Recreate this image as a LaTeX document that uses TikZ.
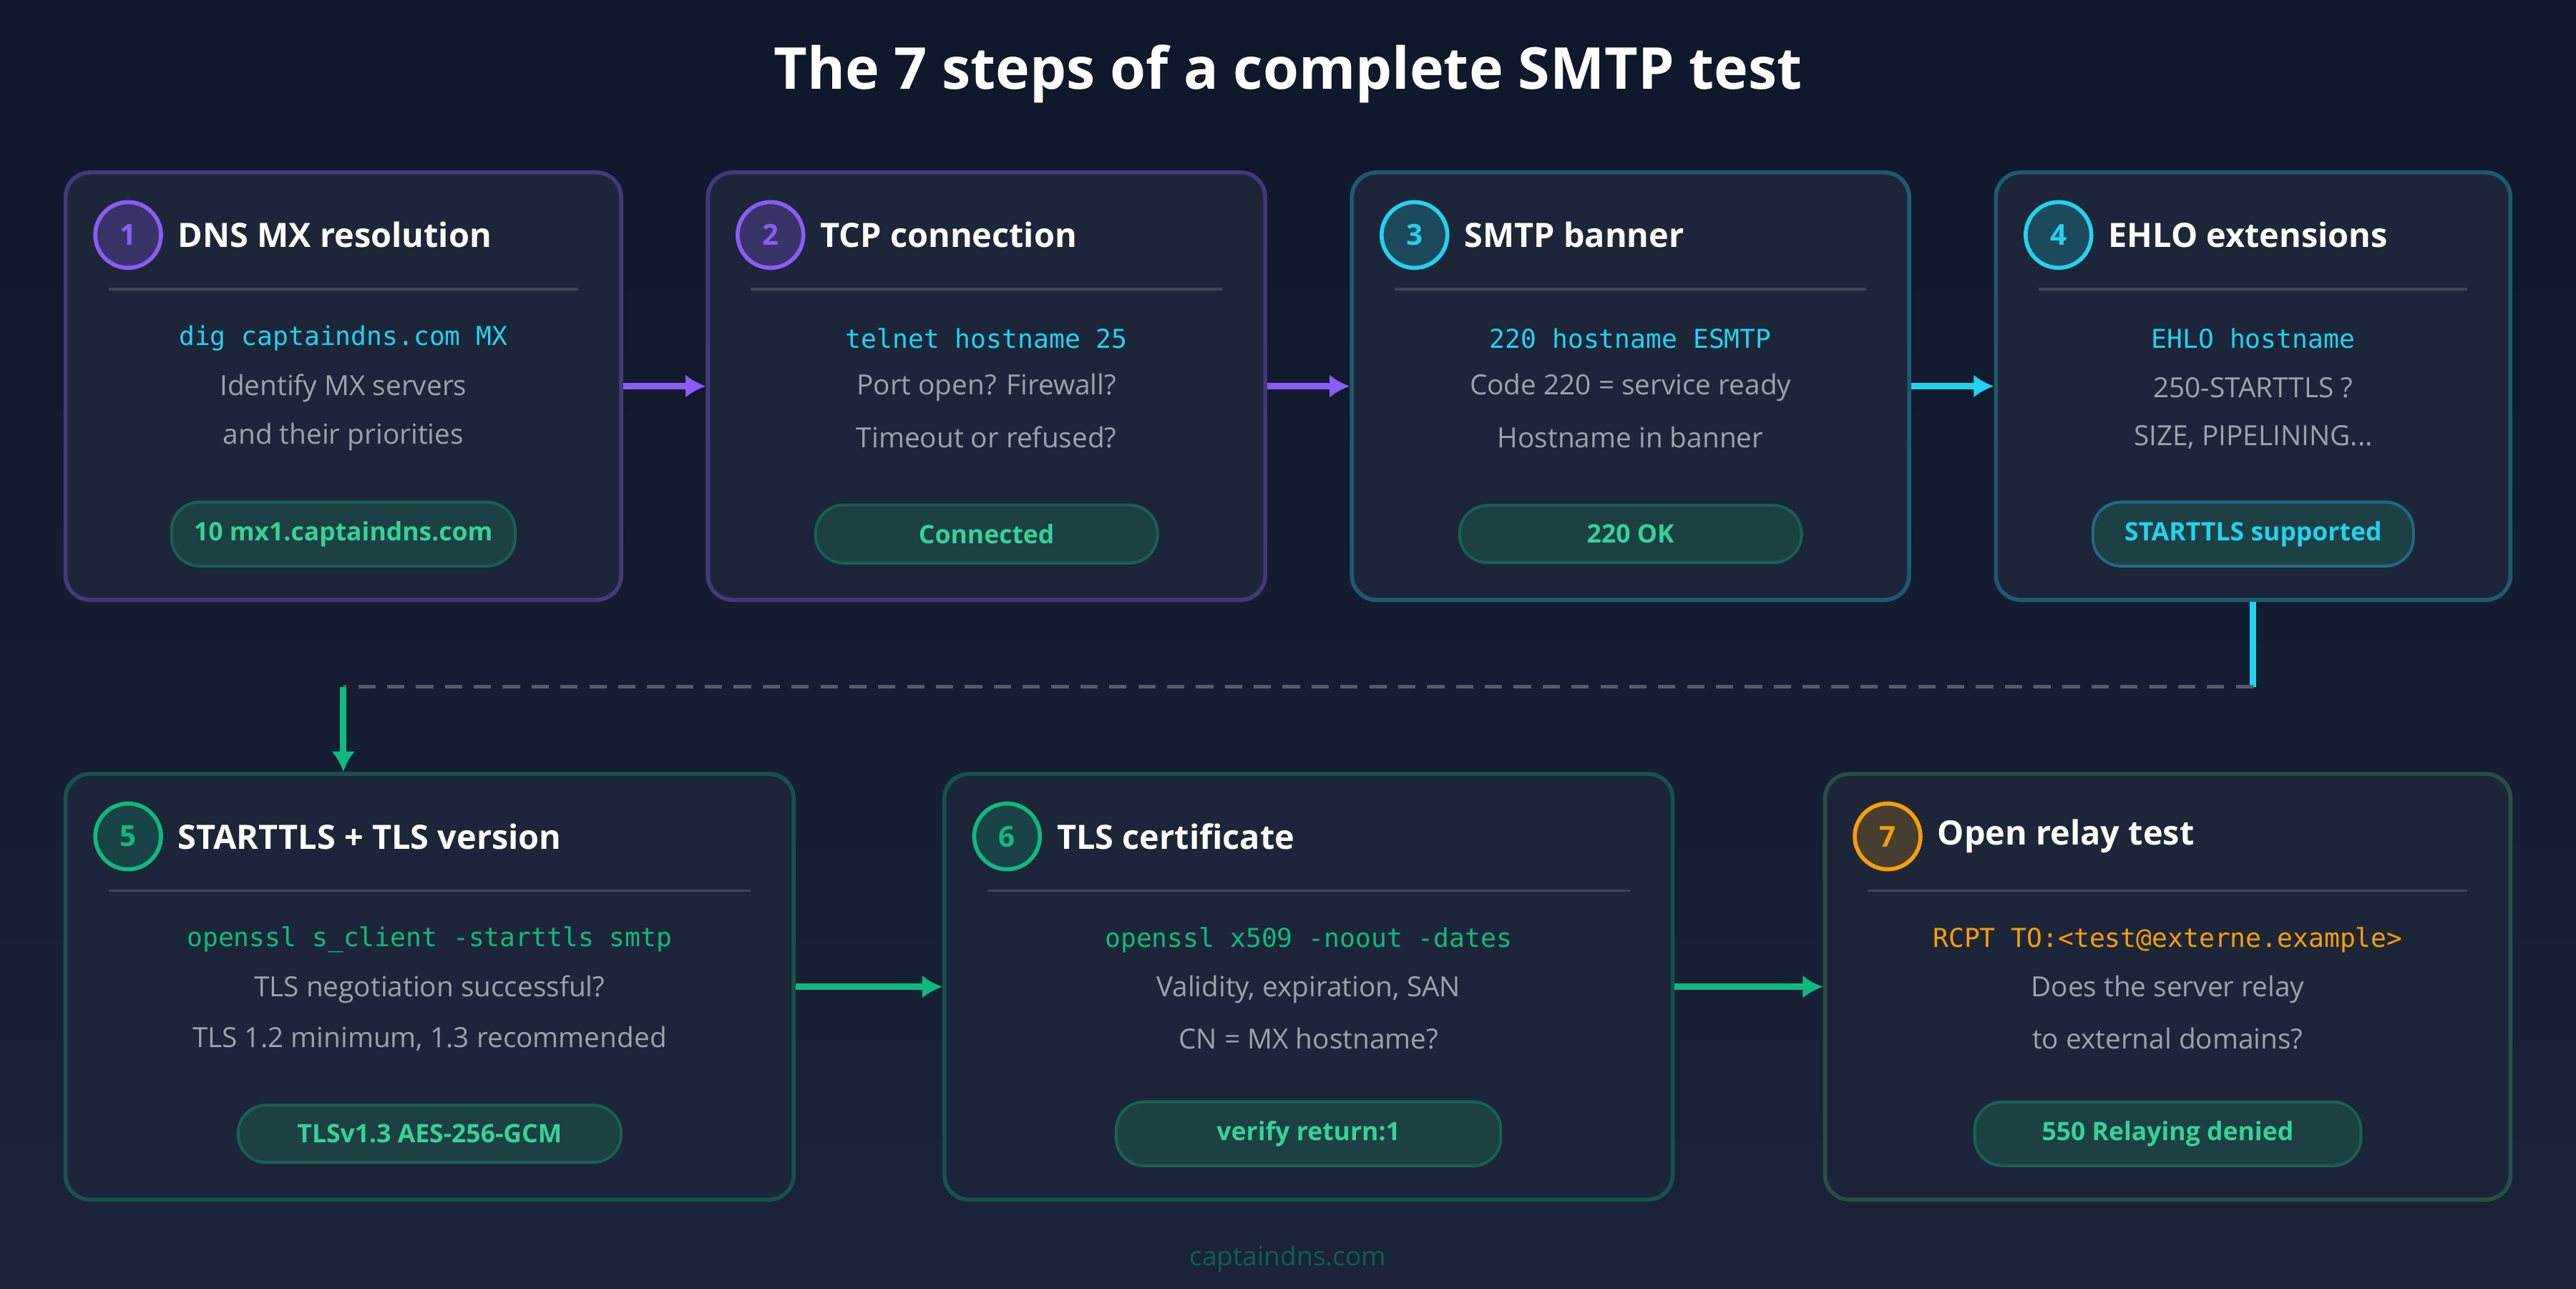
\documentclass[tikz,border=0pt]{standalone}
\usepackage{fontspec}
\setmainfont{Open Sans}
\setmonofont{DejaVu Sans Mono}
\definecolor{bgdark}{HTML}{0F172A}
\definecolor{bglight}{HTML}{1A2436}
\definecolor{cardfill}{HTML}{1C2638}
\definecolor{violet}{HTML}{8B5CF6}
\definecolor{cyanish}{HTML}{22D3EE}
\definecolor{emerald}{HTML}{10B981}
\definecolor{amber}{HTML}{F59E0B}
\definecolor{bodytext}{HTML}{9CA3AF}
\definecolor{pillfill}{HTML}{1D4044}
\definecolor{pilltext}{HTML}{34D399}
\tikzset{card/.style={draw, rounded corners=0.15cm, fill=cardfill, line width=0.7pt}}
\tikzset{num/.style={draw, circle, line width=0.7pt, minimum size=0.4cm, inner sep=0pt, font=\fontsize{5}{6}\selectfont\bfseries}}
\tikzset{head/.style={anchor=west, text=white, font=\fontsize{5.8}{7}\selectfont\bfseries}}
\tikzset{sep/.style={draw=white!15!cardfill, line width=0.4pt}}
\tikzset{code/.style={font=\fontsize{4.5}{5}\ttfamily}}
\tikzset{body/.style={text=bodytext, font=\fontsize{4.8}{6}\selectfont}}
\tikzset{pill/.style={draw=emerald!40!cardfill, fill=pillfill, rounded corners=0.17cm, minimum height=0.34cm, line width=0.5pt, text=pilltext, font=\fontsize{4.4}{5}\selectfont\bfseries}}
\tikzset{flow/.style={line width=1.1pt, -{Latex[length=3.5pt,width=4pt]}}}
\usetikzlibrary{arrows.meta}

\begin{document}
\begin{tikzpicture}[x=0.01cm, y=-0.01cm]
        \shade[top color=bgdark, bottom color=bglight] (0,0) rectangle (1568,784);
        \useasboundingbox (0,0) rectangle (1568,784);

        \node[text=white, font=\fontsize{10}{12}\selectfont\bfseries] (T) at (784,45) {The 7 steps of a complete SMTP test};

        % row 1
        \node[card, draw=violet!35!cardfill, minimum width=3.38cm, minimum height=2.6cm] (S1) at (209,235) {};
        \node[card, draw=violet!35!cardfill, minimum width=3.39cm, minimum height=2.6cm] (S2) at (600.5,235) {};
        \node[card, draw=cyanish!30!cardfill, minimum width=3.39cm, minimum height=2.6cm] (S3) at (992.5,235) {};
        \node[card, draw=cyanish!30!cardfill, minimum width=3.13cm, minimum height=2.6cm] (S4) at (1371.5,235) {};

        \node[num, draw=violet, fill=violet!25!cardfill, text=violet] (N1) at (78,143) {1};
        \node[head] (H1) at (96,143) {DNS MX resolution};
        \draw[sep] (66,176) -- (352,176);
        \node[code, text=cyanish] (C1) at (209,206) {dig captaindns.com MX};
        \node[body] (B1a) at (209,236) {Identify MX servers};
        \node[body] (B1b) at (209,266) {and their priorities};
        \node[pill, minimum width=2.09cm] (P1) at (209,325) {10 mx1.captaindns.com};

        \node[num, draw=violet, fill=violet!25!cardfill, text=violet] (N2) at (469,143) {2};
        \node[head] (H2) at (487,143) {TCP connection};
        \draw[sep] (457,176) -- (744,176);
        \node[code, text=cyanish] (C2) at (600.5,206) {telnet hostname 25};
        \node[body] (B2a) at (600.5,236) {Port open? Firewall?};
        \node[body] (B2b) at (600.5,266) {Timeout or refused?};
        \node[pill, minimum width=2.08cm] (P2) at (600.5,325) {Connected};

        \node[num, draw=cyanish, fill=cyanish!20!cardfill, text=cyanish] (N3) at (861,143) {3};
        \node[head] (H3) at (879,143) {SMTP banner};
        \draw[sep] (849,176) -- (1136,176);
        \node[code, text=cyanish] (C3) at (992.5,206) {220 hostname ESMTP};
        \node[body] (B3a) at (992.5,236) {Code 220 = service ready};
        \node[body] (B3b) at (992.5,266) {Hostname in banner};
        \node[pill, minimum width=2.08cm] (P3) at (992.5,325) {220 OK};

        \node[num, draw=cyanish, fill=cyanish!20!cardfill, text=cyanish] (N4) at (1253,143) {4};
        \node[head] (H4) at (1271,143) {EHLO extensions};
        \draw[sep] (1241,176) -- (1502,176);
        \node[code, text=cyanish] (C4) at (1371.5,206) {EHLO hostname};
        \node[body] (B4a) at (1371.5,236) {250-STARTTLS ?};
        \node[body] (B4b) at (1371.5,266) {SIZE, PIPELINING...};
        \node[pill, draw=cyanish!40!cardfill, text=cyanish, minimum width=1.95cm] (P4) at (1371.5,325) {STARTTLS supported};

        % row 2
        \node[card, draw=emerald!30!cardfill, minimum width=4.43cm, minimum height=2.59cm] (S5) at (261.5,600.5) {};
        \node[card, draw=emerald!30!cardfill, minimum width=4.43cm, minimum height=2.59cm] (S6) at (796.5,600.5) {};
        \node[card, draw=amber!20!emerald!30!cardfill, minimum width=4.17cm, minimum height=2.59cm] (S7) at (1319.5,600.5) {};

        \node[num, draw=emerald, fill=emerald!20!cardfill, text=emerald] (N5) at (78,509) {5};
        \node[head] (H5) at (96,509) {STARTTLS + TLS version};
        \draw[sep] (66,542) -- (457,542);
        \node[code, text=emerald] (C5) at (261.5,572) {openssl s\_client -starttls smtp};
        \node[body] (B5a) at (261.5,602) {TLS negotiation successful?};
        \node[body] (B5b) at (261.5,632) {TLS 1.2 minimum, 1.3 recommended};
        \node[pill, minimum width=2.33cm] (P5) at (261.5,690) {TLSv1.3 AES-256-GCM};

        \node[num, draw=emerald, fill=emerald!20!cardfill, text=emerald] (N6) at (613,509) {6};
        \node[head] (H6) at (631,509) {TLS certificate};
        \draw[sep] (601,542) -- (992,542);
        \node[code, text=emerald] (C6) at (796.5,572) {openssl x509 -noout -dates};
        \node[body] (B6a) at (796.5,602) {Validity, expiration, SAN};
        \node[body] (B6b) at (796.5,632) {CN = MX hostname?};
        \node[pill, minimum width=2.34cm] (P6) at (796.5,690) {verify return:1};

        \node[num, draw=amber, fill=amber!20!cardfill, text=amber] (N7) at (1149,509) {7};
        \node[head] (H7) at (1167,509) {Open relay test};
        \draw[sep] (1137,542) -- (1502,542);
        \node[code, text=amber] (C7) at (1319.5,572) {RCPT TO:<test@externe.example>};
        \node[body] (B7a) at (1319.5,602) {Does the server relay};
        \node[body] (B7b) at (1319.5,632) {to external domains?};
        \node[pill, minimum width=2.35cm] (P7) at (1319.5,690) {550 Relaying denied};

        % connectors
        \draw[flow, violet] (S1) -- (S2);
        \draw[flow, violet] (S2) -- (S3);
        \draw[flow, cyanish] (S3) -- (S4);
        \draw[flow, emerald] (S5) -- (S6);
        \draw[flow, emerald] (S6) -- (S7);
        \coordinate (K1) at (1371.5,418);
        \coordinate (K2) at (209,418);
        \draw[cyanish, line width=1.1pt] (S4.south) -- (K1);
        \draw[white!25!cardfill, line width=0.6pt, dash pattern=on 3pt off 2pt] (K1) -- (K2);
        \draw[flow, emerald] (K2) -- (S5.north -| K2);

        \node[text=emerald!45!bgdark, font=\fontsize{4.6}{5}\selectfont] (F) at (784,766) {captaindns.com};
\end{tikzpicture}
\end{document}
